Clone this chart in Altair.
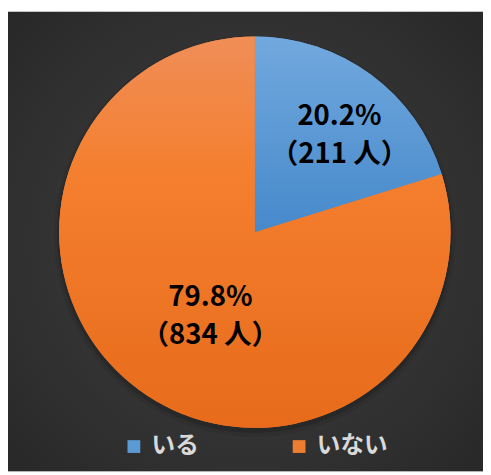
import altair as alt
import pandas as pd

labels = ["いる", "いない"]
counts = [211, 834]
percents = ["20.2%", "79.8%"]
people = ["（211 人）", "（834 人）"]
order_idx = [0, 1]

df = pd.DataFrame({"label": labels, "count": counts, "pct": percents,
                   "people": people, "order": order_idx})
df["text"] = df["pct"] + "\n" + df["people"]

W, H = 483, 467
CX, CY = 251, 224
R = 199

FONT = "Noto Sans CJK JP"

bg_grad = {"gradient": "radial", "x1": 0.5, "y1": 0.5, "r1": 0,
           "x2": 0.5, "y2": 0.5, "r2": 0.72,
           "stops": [{"offset": 0, "color": "#424242"},
                     {"offset": 1, "color": "#272727"}]}
blue_grad = {"gradient": "linear", "x1": 0, "y1": 0, "x2": 0, "y2": 1,
             "stops": [{"offset": 0, "color": "#72a9de"},
                       {"offset": 1, "color": "#4689cb"}]}
orange_grad = {"gradient": "linear", "x1": 0, "y1": 0, "x2": 0, "y2": 1,
               "stops": [{"offset": 0, "color": "#f08e58"},
                         {"offset": 0.35, "color": "#f47f2e"},
                         {"offset": 1, "color": "#e76b1b"}]}

theta = alt.Theta("count:Q", stack=True)
order = alt.Order("order:Q")
px = alt.value(CX)
py = alt.value(CY)

bg = alt.Chart(pd.DataFrame({"a": [0]})).mark_rect(fill=bg_grad).encode(
    x=alt.value(0), x2=alt.value(W), y=alt.value(0), y2=alt.value(H))

shadow1 = alt.Chart(df).mark_arc(outerRadius=R + 5, fill="#111111", opacity=0.10).encode(
    theta=theta, order=order, x=px, y=alt.value(CY + 4))
shadow2 = alt.Chart(df).mark_arc(outerRadius=R + 2, fill="#111111", opacity=0.22).encode(
    theta=theta, order=order, x=px, y=alt.value(CY + 3))

base = alt.Chart(df).mark_arc(outerRadius=R).encode(
    theta=theta, order=order, x=px, y=py,
    color=alt.Color("label:N",
                    scale=alt.Scale(domain=labels, range=["#5b9bd5", "#ed7d31"]),
                    legend=alt.Legend(orient="none", legendX=116, legendY=430,
                                      direction="horizontal", title=None,
                                      symbolType="square", symbolSize=169,
                                      symbolStrokeWidth=0, labelOffset=6,
                                      labelFontSize=24, labelColor="#d9d9d9",
                                      labelFont="Noto Sans CJK JP",
                                      labelFontWeight="bold", columnPadding=90)))

grad = alt.Chart(df).mark_arc(outerRadius=R).encode(
    theta=theta, order=order, x=px, y=py,
    fill=alt.condition(alt.datum.label == "いる", alt.value(blue_grad), alt.value(orange_grad)))

txt_blue = alt.Chart(df).mark_text(
    radius=130, dx=9, dy=-12, fontSize=28, font=FONT, fontWeight="bold",
    lineBreak="\n", lineHeight=38, color="black").encode(
    theta=theta, order=order, x=px, y=py,
    text=alt.condition(alt.datum.label == "いる", alt.Text("text:N"), alt.value("")))

txt_orange = alt.Chart(df).mark_text(
    radius=100, dx=14, dy=-13, fontSize=28, font=FONT, fontWeight="bold",
    lineBreak="\n", lineHeight=38, color="black").encode(
    theta=theta, order=order, x=px, y=py,
    text=alt.condition(alt.datum.label == "いない", alt.Text("text:N"), alt.value("")))

chart = alt.layer(bg, shadow1, shadow2, base, grad, txt_blue, txt_orange).properties(
    width=W, height=H, autosize=alt.AutoSizeParams(type="none"), padding=0
).configure_view(stroke=None).configure(background="white")

chart.save("out.html", embed_options={"renderer": "svg", "actions": False})
